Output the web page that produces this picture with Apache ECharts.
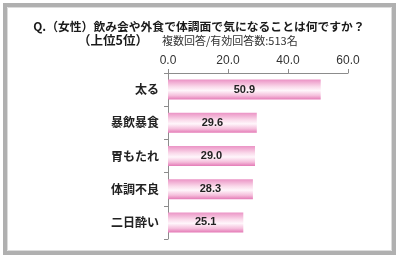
<!DOCTYPE html>
<html><head><meta charset="utf-8">
<script src="https://cdn.jsdelivr.net/npm/echarts@6/dist/echarts.min.js"></script>
<style>html,body{margin:0;padding:0;background:#fff}#c{width:400px;height:258px}</style>
</head><body><div id="c"></div>
<script>
const categories = ['太る', '暴飲暴食', '胃もたれ', '体調不良', '二日酔い'];
const values = [50.9, 29.6, 29.0, 28.3, 25.1];
const xTicks = [0, 20, 40, 60];
const titleText = 'Q.（女性）飲み会や外食で体調面で気になることは何ですか？';
const subTitle = '（上位5位）';
const noteText = '複数回答/有効回答数:513名';

const chart = echarts.init(document.getElementById('c'), null, {renderer: 'canvas'});
const jp = '"Noto Sans CJK JP", sans-serif';
chart.setOption({
  animation: false,
  backgroundColor: '#fff',
  graphic: [
    {type: 'rect', shape: {x: 5, y: 5, width: 389, height: 248}, style: {fill: 'none', stroke: '#b0b0b0', lineWidth: 4}, z: 10},
    {type: 'rect', shape: {x: 7.5, y: 7.5, width: 384, height: 243}, style: {fill: 'none', stroke: '#dcdcdc', lineWidth: 1}, z: 10},
    {type: 'text', x: 199, y: 27, style: {text: titleText, font: 'bold 11.8px ' + jp, fill: '#1a1a1a', textAlign: 'center', textVerticalAlign: 'middle'}},
    {type: 'text', x: 148, y: 40, style: {text: subTitle, font: 'bold 12.5px ' + jp, fill: '#1a1a1a', textAlign: 'right', textVerticalAlign: 'middle'}},
    {type: 'text', x: 162, y: 41, style: {text: noteText, font: '11px ' + jp, fill: '#333', textAlign: 'left', textVerticalAlign: 'middle'}}
  ],
  grid: {left: 168, right: 52, top: 73, bottom: 19, containLabel: false},
  xAxis: {
    type: 'value', position: 'top', min: xTicks[0], max: xTicks[xTicks.length - 1], interval: 20,
    axisLine: {show: true, lineStyle: {color: '#8c8c8c'}},
    axisTick: {show: true, length: 4, lineStyle: {color: '#8c8c8c'}},
    splitLine: {show: false},
    axisLabel: {formatter: v => v.toFixed(1), color: '#333', fontSize: 12, fontFamily: '"Liberation Sans", Arial, sans-serif', margin: 6}
  },
  yAxis: {
    type: 'category', data: categories, inverse: true,
    axisLine: {show: true, lineStyle: {color: '#8c8c8c'}},
    axisTick: {show: true, length: 4, lineStyle: {color: '#8c8c8c'}},
    axisLabel: {color: '#222', fontSize: 12, fontWeight: 'bold', fontFamily: jp, margin: 9}
  },
  series: [{
    type: 'bar', data: values, barWidth: 20,
    itemStyle: {color: new echarts.graphic.LinearGradient(0, 0, 0, 1, [
      {offset: 0, color: '#eb93c5'},
      {offset: 0.35, color: '#fad9ea'},
      {offset: 0.55, color: '#fff6fb'},
      {offset: 0.8, color: '#f5bfdc'},
      {offset: 1, color: '#e47ab6'}
    ])},
    label: {show: true, position: 'inside', formatter: p => p.value.toFixed(1), color: '#222', fontWeight: 'bold', fontSize: 11, fontFamily: '"Liberation Sans", Arial, sans-serif'}
  }]
});
</script></body></html>
